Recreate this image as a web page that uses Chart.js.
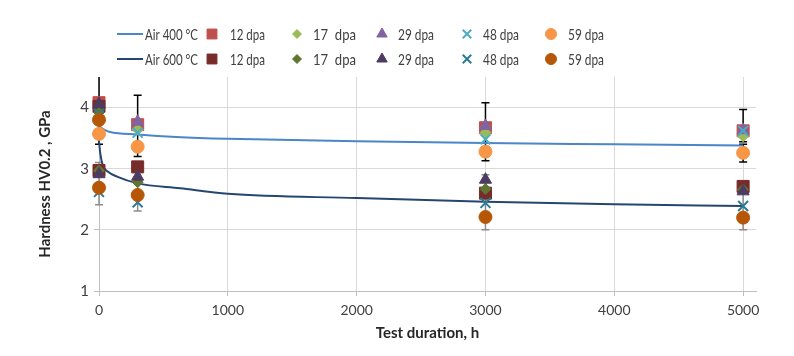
<!DOCTYPE html>
<html lang="en">
<head>
    <meta charset="UTF-8">
    <title>Hardness vs test duration</title>
    <script src="https://cdn.jsdelivr.net/npm/chart.js"></script>
    <style>
        html, body { margin: 0; padding: 0; background: #fff; }
        #wrap { width: 794px; height: 356px; }
    </style>
</head>
<body>
<div id="wrap"><canvas id="hardnessChart" width="794" height="356"></canvas></div>
<script>
    // --- data ---
    const dpaLabels = ['12 dpa', '17  dpa', '29 dpa', '48 dpa', '59 dpa'];
    const lineLabels = ['Air 400 °C', 'Air 600 °C'];

    // trend curves (hours, GPa)
    const air400Hours = [0, 40, 85, 300, 600, 1000, 2000, 3000, 4000, 5000];
    const air400Hv = [3.70, 3.64, 3.60, 3.56, 3.52, 3.49, 3.45, 3.42, 3.40, 3.38];
    const air600Hours = [0, 10, 30, 70, 140, 300, 630, 1000, 2000, 3000, 4000, 5000];
    const air600Hv = [3.45, 3.25, 3.05, 2.95, 2.87, 2.76, 2.68, 2.59, 2.52, 2.46, 2.42, 2.39];

    // measured points at 400 °C
    const hours400 = [0, 300, 3000, 5000];
    const hv400_12 = [4.08, 3.72, 3.67, 3.62];
    const hv400_17 = [3.95, 3.64, 3.59, 3.53];
    const hv400_29 = [4.05, 3.77, 3.70, 3.63];
    const hv400_48 = [3.93, 3.59, 3.48, 3.62];
    const hv400_59 = [3.57, 3.36, 3.28, 3.26];

    // measured points at 600 °C
    const hours600 = [0, 0, 300, 3000, 5000];
    const hv600_12 = [4.02, 2.97, 3.03, 2.60, 2.71];
    const hv600_17 = [3.92, 2.97, 2.78, 2.67, 2.66];
    const hv600_29 = [4.06, 2.91, 2.87, 2.82, 2.63];
    const hv600_48 = [3.90, 2.62, 2.45, 2.44, 2.39];
    const hv600_59 = [3.80, 2.69, 2.57, 2.21, 2.20];

    // error bars: hours, low, high
    const err400 = [[0, 3.40, 4.70], [300, 3.20, 4.20], [3000, 3.13, 4.08], [5000, 3.44, 3.97], [5000, 3.11, 3.40]];
    const err600 = [[0, 2.41, 3.10], [300, 2.31, 3.10], [3000, 2.00, 2.90], [5000, 2.00, 2.80]];

    const xTicks = [0, 1000, 2000, 3000, 4000, 5000];
    const yTicks = [1, 2, 3, 4];

    // --- styling ---
    const FONT = 'Lato, "Open Sans", sans-serif';
    const colors400 = ['#C0504D', '#9BBB59', '#8064A2', '#4BACC6', '#F79646'];
    const colors600 = ['#772C2A', '#5F7530', '#4D3B62', '#2C7B92', '#B65708'];
    const styles = ['rect', 'rectRot', 'triangle', 'crossRot', 'circle'];
    const radii = [8.5, 5.5, 7, 7, 6.5];

    const pts = (xs, ys) => xs.map((x, i) => ({ x: x, y: ys[i] }));

    function markerSet(label, xs, ys, k, palette) {
        const cross = styles[k] === 'crossRot';
        return {
            label: label,
            type: 'scatter',
            data: pts(xs, ys),
            pointStyle: styles[k],
            pointRadius: radii[k],
            pointHoverRadius: radii[k],
            backgroundColor: palette[k],
            borderColor: palette[k],
            pointBorderWidth: cross ? 2 : 1,
            showLine: false,
            clip: false
        };
    }

    const sets400 = [hv400_12, hv400_17, hv400_29, hv400_48, hv400_59];
    const sets600 = [hv600_12, hv600_17, hv600_29, hv600_48, hv600_59];

    const datasets = [
        { label: lineLabels[0], type: 'line', data: pts(air400Hours, air400Hv), borderColor: '#4A86C8',
          borderWidth: 2, pointRadius: 0, cubicInterpolationMode: 'monotone', fill: false, clip: false },
        { label: lineLabels[1], type: 'line', data: pts(air600Hours, air600Hv), borderColor: '#24466F',
          borderWidth: 2, pointRadius: 0, cubicInterpolationMode: 'monotone', fill: false, clip: false }
    ];
    sets400.forEach((ys, k) => datasets.push(markerSet(dpaLabels[k], hours400, ys, k, colors400)));
    sets600.forEach((ys, k) => datasets.push(markerSet(dpaLabels[k], hours600, ys, k, colors600)));
    // later series sit on top, like the original
    datasets.forEach((d, i) => { d.order = datasets.length - i; });

    // error bars drawn behind the markers
    const errorBars = {
        id: 'errorBars',
        beforeDatasetsDraw(chart) {
            const { ctx, chartArea, scales } = chart;
            ctx.save();
            ctx.beginPath();
            ctx.rect(chartArea.left - 10, chartArea.top, chartArea.width + 20, chartArea.height + 10);
            ctx.clip();
            ctx.lineWidth = 1.5;
            const draw = (list, color) => {
                ctx.strokeStyle = color;
                list.forEach(([h, lo, hi]) => {
                    const x = scales.x.getPixelForValue(h);
                    const y1 = scales.y.getPixelForValue(lo);
                    const y2 = scales.y.getPixelForValue(hi);
                    ctx.beginPath();
                    ctx.moveTo(x, y1); ctx.lineTo(x, y2);
                    ctx.moveTo(x - 4, y1); ctx.lineTo(x + 4, y1);
                    ctx.moveTo(x - 4, y2); ctx.lineTo(x + 4, y2);
                    ctx.stroke();
                });
            };
            draw(err600, '#8C8C8C');
            draw(err400, '#000000');
            ctx.restore();
        }
    };

    // two-row legend like the original
    const legendRows = {
        id: 'legendRows',
        afterDraw(chart) {
            const ctx = chart.ctx;
            const rowsY = [34, 59];
            const markerX = [212, 297, 382, 467, 551];
            const textX = [230, 313, 398, 483, 568];
            const textW = [35, 43, 36, 36, 36];
            ctx.save();
            ctx.font = '15px ' + FONT;
            ctx.textBaseline = 'middle';
            [0, 1].forEach(r => {
                const y = rowsY[r];
                const line = chart.data.datasets[r];
                ctx.strokeStyle = line.borderColor;
                ctx.lineWidth = 2;
                ctx.beginPath(); ctx.moveTo(117, y); ctx.lineTo(143, y); ctx.stroke();
                ctx.fillStyle = '#404040';
                ctx.fillText(line.label, 145, y + 1, 53);
                for (let k = 0; k < 5; k++) {
                    const d = chart.data.datasets[2 + r * 5 + k];
                    ctx.fillStyle = d.backgroundColor;
                    ctx.strokeStyle = d.borderColor;
                    ctx.lineWidth = d.pointBorderWidth;
                    const rad = styles[k] === 'rect' ? 7 : radii[k] - 1;
                    Chart.helpers.drawPoint(ctx, { pointStyle: d.pointStyle, radius: rad, rotation: 0, borderWidth: d.pointBorderWidth }, markerX[k], y);
                    ctx.fillStyle = '#404040';
                    ctx.fillText(d.label, textX[k], y + 1, textW[k]);
                }
            });
            ctx.restore();
        }
    };

    new Chart(document.getElementById('hardnessChart'), {
        type: 'scatter',
        data: { datasets: datasets },
        plugins: [errorBars, legendRows],
        options: {
            responsive: false,
            animation: false,
            layout: { padding: { top: 77, right: 38, bottom: 0, left: 0 } },
            plugins: { legend: { display: false }, tooltip: { enabled: false } },
            scales: {
                x: {
                    type: 'linear',
                    min: 0,
                    max: 5100,
                    afterFit: s => { s.height = 65; },
                    afterBuildTicks: s => { s.ticks = xTicks.map(v => ({ value: v })); },
                    ticks: { font: { family: FONT, size: 14 }, color: '#404040', padding: 6, maxRotation: 0,
                             callback: v => String(v) },
                    grid: { color: '#D9D9D9', tickColor: '#BFBFBF', tickLength: 5 },
                    border: { color: '#BFBFBF' },
                    title: { display: true, text: 'Test duration, h', color: '#262626',
                             font: { family: FONT, size: 15, weight: 'bold' }, padding: { top: 0, bottom: 14 } }
                },
                y: {
                    min: 1,
                    max: 4.5,
                    afterFit: s => { s.width = 99; },
                    afterBuildTicks: s => { s.ticks = yTicks.map(v => ({ value: v })); },
                    ticks: { font: { family: FONT, size: 15 }, color: '#404040', padding: 5,
                             callback: v => String(v) },
                    grid: { color: '#D9D9D9', tickColor: '#BFBFBF', tickLength: 5 },
                    border: { color: '#BFBFBF' },
                    title: { display: true, text: 'Hardness HV0.2 , GPa', color: '#262626',
                             font: { family: FONT, size: 15, weight: 'bold' }, padding: { top: 36, bottom: 0 } }
                }
            }
        }
    });
</script>
</body>
</html>
